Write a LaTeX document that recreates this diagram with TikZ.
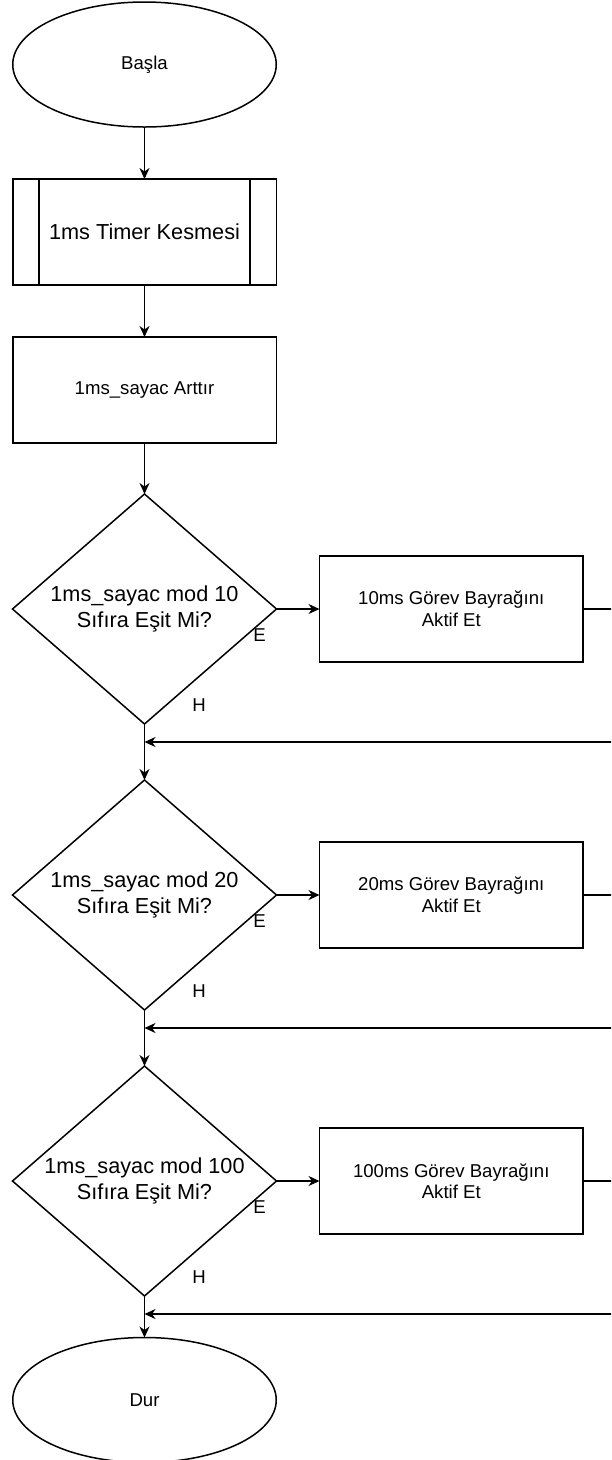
\documentclass[tikz,border=0pt]{standalone}
\usepackage{fontspec}
\setmainfont{Liberation Sans}
\usetikzlibrary{shapes.geometric,arrows.meta}
\begin{document}
\begin{tikzpicture}[x=1pt,y=-1pt,
  every node/.style={inner sep=0pt,outer sep=0pt},
  ln/.style={line width=1.5pt,draw=black},
  arr/.style={ln,-{Stealth[length=11pt,width=10pt,inset=3.5pt]}},
  fsmall/.style={font=\fontsize{18.6}{21.6}\selectfont},
  fbig/.style={font=\fontsize{21.7}{25.2}\selectfont},
  term/.style={ellipse,ln,minimum width=263.5pt,minimum height=125pt,fsmall},
  procbox/.style={rectangle,ln,minimum width=263.5pt,minimum height=106pt,align=center},
  dec/.style={diamond,ln,minimum width=264pt,minimum height=230pt,aspect=1.148,align=center,fbig},
  lbl/.style={fsmall}
]
\useasboundingbox (0,0) rectangle (611,1460);
\clip (0,0) rectangle (611,1460);

\node[term] (start) at (144.5,64.5) {Başla};
\node[procbox,fbig] (timer) at (144.5,232) {1ms Timer Kesmesi};
\draw[ln] ([xshift=26.4pt]timer.north west) -- ([xshift=26.4pt]timer.south west);
\draw[ln] ([xshift=-26.4pt]timer.north east) -- ([xshift=-26.4pt]timer.south east);
\node[procbox,fsmall] (inc) at (144.5,390) {1ms\_sayac Arttır};

\node[dec] (d1) at (144.5,609) {1ms\_sayac mod 10\\Sıfıra Eşit Mi?};
\node[dec] (d2) at (144.5,895) {1ms\_sayac mod 20\\Sıfıra Eşit Mi?};
\node[dec] (d3) at (144.5,1181) {1ms\_sayac mod 100\\Sıfıra Eşit Mi?};

\node[procbox,fsmall] (b1) at (451.25,609) {10ms Görev Bayrağını\\Aktif Et};
\node[procbox,fsmall] (b2) at (451.25,895) {20ms Görev Bayrağını\\Aktif Et};
\node[procbox,fsmall] (b3) at (451.25,1181) {100ms Görev Bayrağını\\Aktif Et};

\node[term] (stop) at (144.5,1400) {Dur};

\node[lbl] (e1) at (259.5,635) {E};
\node[lbl] (h1) at (199,705) {H};
\node[lbl] (e2) at (259.5,921) {E};
\node[lbl] (h2) at (199,991) {H};
\node[lbl] (e3) at (259.5,1207) {E};
\node[lbl] (h3) at (199,1277) {H};

\coordinate (o1) at (612,609);
\coordinate (o2) at (612,895);
\coordinate (o3) at (612,1181);
\coordinate (r1) at (612,742);
\coordinate (r2) at (612,1028);
\coordinate (r3) at (612,1314);
\coordinate (j1) at (144.5,742);
\coordinate (j2) at (144.5,1028);
\coordinate (j3) at (144.5,1314);

\draw[arr] (start) -- (timer);
\draw[arr] (timer) -- (inc);
\draw[arr] (inc) -- (d1.north);
\draw[arr] (d1.east) -- (b1.west);
\draw[arr] (d2.east) -- (b2.west);
\draw[arr] (d3.east) -- (b3.west);
\draw[ln] (b1.east) -- (o1);
\draw[ln] (b2.east) -- (o2);
\draw[ln] (b3.east) -- (o3);
\draw[arr] (r1) -- (j1);
\draw[arr] (r2) -- (j2);
\draw[arr] (r3) -- (j3);
\draw[arr] (d1.south) -- (d2.north);
\draw[arr] (d2.south) -- (d3.north);
\draw[arr] (d3.south) -- (stop.north);
\end{tikzpicture}
\end{document}
